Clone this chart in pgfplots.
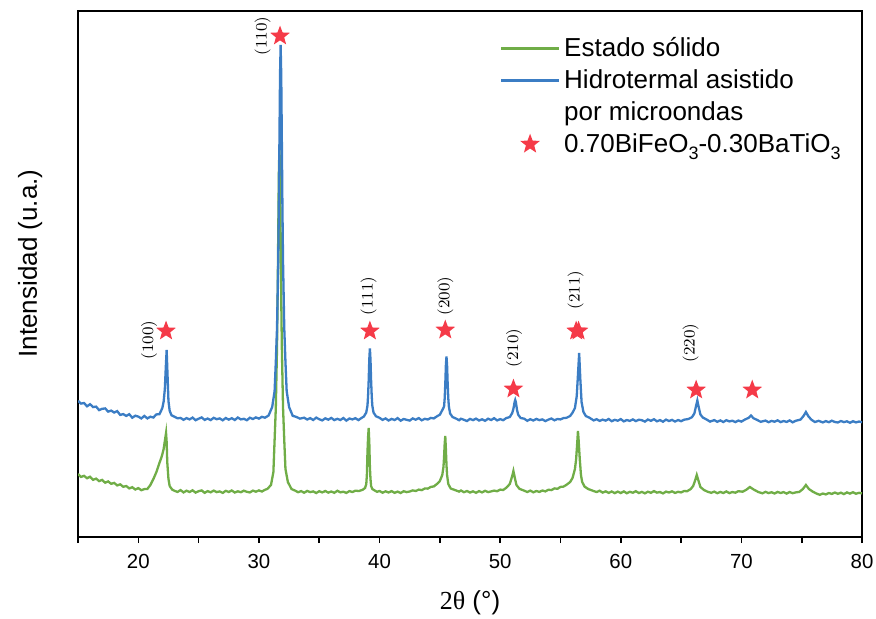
\documentclass[border=0pt]{standalone}
\usepackage{fontspec}
\setsansfont{Liberation Sans}
\newfontfamily\serifL{Liberation Serif}
\usepackage{pgfplots}
\pgfplotsset{compat=1.18}
\definecolor{gr}{RGB}{112,173,71}
\definecolor{bl}{RGB}{59,125,196}
\definecolor{sr}{RGB}{245,58,72}
\pgfplotsset{
  linelegend/.style={legend image code/.code={\draw[##1] (0pt,0pt) -- (29pt,0pt);}},
  starlegend/.style={legend image code/.code={\draw[##1] plot coordinates {(14.5pt,0pt)};}},
}
\newcommand{\sub}[1]{\raisebox{-0.55ex}{\fontsize{9}{9}\selectfont #1}}
\pgfdeclareplotmark{fstar}{%
 \pgfpathmoveto{\pgfpointpolar{90}{\pgfplotmarksize}}%
 \pgfpathlineto{\pgfpointpolar{126}{0.42*\pgfplotmarksize}}%
 \pgfpathlineto{\pgfpointpolar{162}{\pgfplotmarksize}}%
 \pgfpathlineto{\pgfpointpolar{198}{0.42*\pgfplotmarksize}}%
 \pgfpathlineto{\pgfpointpolar{234}{\pgfplotmarksize}}%
 \pgfpathlineto{\pgfpointpolar{270}{0.42*\pgfplotmarksize}}%
 \pgfpathlineto{\pgfpointpolar{306}{\pgfplotmarksize}}%
 \pgfpathlineto{\pgfpointpolar{342}{0.42*\pgfplotmarksize}}%
 \pgfpathlineto{\pgfpointpolar{18}{\pgfplotmarksize}}%
 \pgfpathlineto{\pgfpointpolar{54}{0.42*\pgfplotmarksize}}%
 \pgfpathclose
 \pgfusepathqfill}
\begin{document}
\begin{tikzpicture}
\begin{axis}[
 scale only axis, width=392pt, height=263pt,
 xmin=15, xmax=80, ymin=0, ymax=526,
 axis line style={line width=0.9pt},
 xtick={20,30,...,80}, minor xtick={15,25,...,75},
 xtick pos=bottom, tick align=outside,
 major tick length=3pt, minor tick length=3pt,
 every tick/.style={line width=0.8pt, black},
 ytick=\empty,
 /pgf/number format/assume math mode=true,
 xticklabel style={font=\sffamily\fontsize{10.2}{12}\selectfont, yshift=-2pt},
 xlabel={{\serifL 2θ} (°)},
 xlabel style={font=\sffamily\fontsize{13}{15}\selectfont, at={(axis description cs:0.5,-0.125)}, anchor=center},
 ylabel={Intensidad (u.a.)},
 ylabel style={font=\sffamily\fontsize{13}{15}\selectfont, at={(axis description cs:-0.061,0.52)}, anchor=center},
 legend cell align=left,
 legend style={at={(axis description cs:0.53,0.962)}, anchor=north west, draw=none, fill=none,
   font=\sffamily\fontsize{13}{14}\selectfont, row sep=3pt, nodes={inner ysep=1pt}},
]
\addplot[gr, line width=1.15pt, linelegend] table {
x y
15.00 63.0
15.25 60.1
15.50 61.2
15.75 58.8
16.00 60.3
16.25 57.2
16.50 58.4
16.75 55.9
17.00 57.1
17.25 54.3
17.50 55.6
17.75 53.2
18.00 54.1
18.25 51.6
18.50 52.7
18.75 50.2
19.00 51.0
19.25 48.6
19.50 49.8
19.75 47.5
20.00 48.9
20.25 46.8
20.50 47.9
20.75 48.0
21.00 52
21.25 58
21.50 65
21.75 74
21.90 79
22.00 83
22.10 88
22.20 96
22.30 104
22.35 95
22.40 75
22.50 58
22.60 51
22.80 47.5
23.00 46.2
23.25 45.1
23.50 46.9
23.75 44.6
24.00 46.3
24.25 45.0
24.50 46.7
24.75 44.4
25.00 45.8
25.25 46.6
25.50 44.2
25.75 45.9
26.00 44.7
26.25 46.4
26.50 44.9
26.75 45.6
27.00 44.1
27.25 46.2
27.50 45.0
27.75 46.5
28.00 44.5
28.25 45.7
28.50 44.8
28.75 46.3
29.00 45.2
29.25 44.6
29.50 46.4
29.75 45.3
30.00 46.6
30.25 45.5
30.50 47.2
30.70 48.1
31.00 52
31.20 65
31.30 97
31.40 129
31.50 190
31.55 239
31.60 301
31.65 362
31.70 390
31.75 362
31.80 301
31.85 239
31.90 190
32.00 129
32.10 97
32.20 68
32.40 55
32.70 48
33.00 46.4
33.25 44.8
33.50 45.9
33.75 44.3
34.00 46.1
34.25 44.9
34.50 45.6
34.75 44.0
35.00 45.8
35.25 44.6
35.50 46.0
35.75 44.4
36.00 45.5
36.25 44.2
36.50 46.2
36.75 44.7
37.00 45.3
37.25 44.1
37.50 45.9
37.75 45.0
38.00 46.3
38.30 46.0
38.60 47.2
38.80 49
38.90 53
38.95 62
39.00 85
39.05 100
39.10 109
39.15 95
39.20 70
39.25 58
39.30 51
39.40 48
39.60 46.5
39.80 45.2
40.00 46.0
40.25 44.3
40.50 45.7
40.75 44.5
41.00 45.9
41.25 44.2
41.50 45.4
41.75 44.0
42.00 45.8
42.25 44.9
42.50 45.5
42.75 46.6
43.00 46.0
43.25 47.4
43.50 46.9
43.75 48.5
44.00 48.4
44.25 50.1
44.50 50.6
44.80 53.4
45.00 56
45.20 62
45.30 70
45.35 80
45.40 93
45.45 101
45.50 88
45.55 72
45.60 62
45.70 53
45.90 48.5
46.20 47.2
46.60 45.4
46.75 46.5
47.00 44.8
47.25 46.0
47.50 44.5
47.75 45.7
48.00 44.2
48.25 45.9
48.50 44.6
48.75 46.2
49.00 44.9
49.25 45.6
49.50 46.4
49.75 45.8
50.00 47.4
50.25 47.0
50.50 49.2
50.80 53
51.00 61
51.10 66
51.20 60
51.35 52
51.60 48.2
52.00 46.3
52.25 45.0
52.50 46.4
52.75 44.7
53.00 46.0
53.25 45.1
53.50 46.5
53.75 45.6
54.00 47.3
54.25 46.9
54.50 48.6
54.75 48.2
55.00 50.1
55.25 50.4
55.50 52.2
55.80 55
56.00 59
56.20 68
56.30 78
56.40 96
56.45 106
56.50 98
56.60 78
56.70 62
56.80 55
57.00 50.4
57.30 48.0
57.70 46.2
58.00 45.0
58.25 46.3
58.50 44.4
58.75 45.7
59.00 44.1
59.25 45.5
59.50 43.9
59.75 45.4
60.00 44.0
60.25 45.6
60.50 43.8
60.75 45.2
61.00 44.3
61.25 45.8
61.50 44.0
61.75 45.1
62.00 43.7
62.25 45.3
62.50 44.2
62.75 45.9
63.00 44.4
63.25 45.0
63.50 43.6
63.75 45.4
64.00 44.5
64.25 45.7
64.50 44.1
64.75 45.2
65.00 44.6
65.25 46.0
65.50 45.8
65.80 48
66.00 51
66.15 56
66.30 62
66.45 56
66.60 50
66.90 47
67.20 45.3
67.50 44.2
67.75 45.4
68.00 43.8
68.25 45.1
68.50 44.0
68.75 45.6
69.00 43.9
69.25 45.0
69.50 44.3
69.75 45.8
70.10 45.3
70.40 47.2
70.70 50
71.00 47.6
71.40 45.0
71.75 43.7
72.00 45.2
72.25 43.9
72.50 44.8
72.75 43.5
73.00 45.1
73.25 44.0
73.50 44.9
73.75 43.4
74.00 45.0
74.25 43.8
74.50 44.6
74.80 45.1
75.10 48
75.35 52
75.60 48
75.90 45.5
76.20 43.6
76.50 42.2
76.75 43.5
77.00 42.6
77.25 44.0
77.50 43.1
77.75 44.5
78.00 43.2
78.25 44.3
78.50 42.9
78.75 44.6
79.00 43.4
79.25 44.8
79.50 43.3
79.75 44.2
80.00 43.6
};
\addlegendentry{Estado sólido}
\addplot[bl, line width=1.15pt, linelegend] table {
x y
15.00 136.2
15.25 133.4
15.50 134.0
15.75 130.7
16.00 132.8
16.25 129.9
16.50 130.4
16.75 126.9
17.00 128.2
17.25 128.6
17.50 125.4
17.75 126.4
18.00 124.5
18.25 125.9
18.50 122.1
18.75 122.9
19.00 121.1
19.25 122.8
19.50 119.3
19.75 121.3
20.00 120.4
20.25 118.6
20.50 121.1
20.75 118.6
21.00 120.3
21.25 119.5
21.50 122.6
21.75 122.8
21.90 126.5
22.00 129.3
22.10 135.4
22.20 148.0
22.28 170
22.35 187
22.42 163
22.50 136
22.60 126.2
22.75 121.8
23.00 120.3
23.25 118.7
23.50 119.1
23.75 117.2
24.00 118.9
24.25 117.6
24.50 119.4
24.75 116.8
25.00 118.3
25.25 119.6
25.50 117.1
25.75 118.5
26.00 116.9
26.25 119.2
26.50 117.8
26.75 118.6
27.00 116.7
27.25 119.0
27.50 117.4
27.75 118.8
28.00 117.0
28.25 119.5
28.50 117.6
28.75 118.2
29.00 116.8
29.25 119.3
29.50 118.0
29.75 119.6
30.00 118.4
30.25 120.2
30.50 119.3
30.80 121.5
31.10 130
31.30 146
31.40 175
31.50 209
31.60 275
31.65 328
31.70 396
31.75 462
31.80 492
31.85 462
31.90 396
31.95 328
32.00 275
32.10 209
32.20 175
32.30 146
32.50 130
32.80 121.2
33.10 120.1
33.40 118.4
33.75 119.3
34.00 117.5
34.25 118.9
34.50 117.0
34.75 119.4
35.00 117.8
35.25 116.6
35.50 118.7
35.75 117.3
36.00 119.1
36.25 116.9
36.50 118.2
36.75 117.0
37.00 119.0
37.25 116.4
37.50 118.5
37.75 117.6
38.00 118.8
38.25 116.9
38.50 119.0
38.70 120.5
38.90 124.5
39.00 131.5
39.05 141.5
39.10 156.5
39.15 177.5
39.20 188.5
39.25 177.5
39.30 156.5
39.35 141.5
39.40 131.5
39.50 124.5
39.70 120.8
40.00 119.2
40.25 117.1
40.50 118.6
40.75 116.5
41.00 118.1
41.25 117.0
41.50 118.9
41.75 116.3
42.00 118.0
42.25 117.2
42.50 116.4
42.75 118.6
43.00 117.3
43.25 118.9
43.50 116.7
43.75 118.2
44.00 117.5
44.25 119.1
44.50 118.6
44.80 121.0
45.00 122.3
45.20 126.8
45.35 130.5
45.40 138.5
45.45 152.5
45.50 171.5
45.55 180.5
45.60 171.5
45.65 152.5
45.70 138.5
45.75 130.5
45.85 123.5
46.05 120.0
46.35 118.4
46.60 116.8
46.75 118.3
47.00 117.2
47.25 116.0
47.50 118.1
47.75 116.9
48.00 118.4
48.25 116.5
48.50 117.7
48.75 116.2
49.00 118.3
49.25 117.0
49.50 118.8
49.75 116.6
50.00 117.9
50.25 116.8
50.50 118.9
50.80 120.0
51.00 124.0
51.10 128.2
51.20 135.0
51.25 137.0
51.30 135.0
51.40 127.0
51.50 122.2
51.70 119.0
52.00 118.3
52.25 116.2
52.50 117.8
52.75 116.5
53.00 118.1
53.25 116.9
53.50 117.6
53.75 115.9
54.00 117.4
54.25 118.5
54.50 116.7
54.75 118.0
55.00 117.6
55.25 118.9
55.50 119.2
55.80 121.0
56.00 124.3
56.20 129.0
56.35 141.0
56.45 162.0
56.55 184.0
56.65 157.0
56.75 135.0
56.90 125.2
57.10 121.0
57.40 119.3
57.75 116.6
58.00 117.8
58.25 116.1
58.50 117.4
58.75 116.4
59.00 118.0
59.25 115.8
59.50 117.2
59.75 116.3
60.00 117.9
60.25 115.6
60.50 117.0
60.75 116.1
61.00 117.6
61.25 115.9
61.50 117.3
61.75 116.8
62.00 115.4
62.25 117.5
62.50 116.2
62.75 117.8
63.00 115.7
63.25 116.9
63.50 115.3
63.75 117.4
64.00 116.0
64.25 117.1
64.50 115.5
64.75 117.0
65.00 115.8
65.25 117.3
65.60 118.0
65.90 119.8
66.10 123.5
66.25 131.5
66.35 136.5
66.45 130.5
66.60 122.6
66.80 119.5
67.10 117.6
67.40 115.4
67.75 116.9
68.00 115.2
68.25 116.6
68.50 115.0
68.75 116.8
69.00 115.6
69.25 116.3
69.50 114.9
69.75 116.5
70.00 115.4
70.30 117.5
70.60 119.2
70.80 121.5
71.00 118.8
71.30 117.1
71.60 115.2
72.00 116.4
72.25 114.8
72.50 116.1
72.75 115.3
73.00 116.7
73.25 114.9
73.50 116.0
73.75 115.1
74.00 116.6
74.25 114.7
74.50 116.2
74.90 117.4
75.15 121.0
75.35 125.0
75.55 120.8
75.80 117.3
76.10 115.0
76.40 116.2
76.75 114.6
77.00 115.9
77.25 114.8
77.50 116.3
77.75 115.0
78.00 114.5
78.25 116.0
78.50 114.9
78.75 115.7
79.00 114.2
79.25 115.8
79.50 114.6
79.75 115.5
80.00 114.8
};
\addlegendentry{Hidrotermal asistido}
\addlegendimage{empty legend}
\addlegendentry{por microondas}
\addplot[only marks, mark=fstar, mark size=5.2pt, color=sr, starlegend] table {
x y
22.3 206
31.75 501
39.2 206
45.45 207
51.1 148
56.3 206
56.5 206
66.25 147
70.9 147
};
\addlegendentry{0.70BiFeO\sub{3}-0.30BaTiO\sub{3}}
\node[rotate=90, font=\fontsize{8}{9}\selectfont] at (axis cs:20.9,197) {(100)};
\node[rotate=90, font=\fontsize{8}{9}\selectfont] at (axis cs:30.3,501) {(110)};
\node[rotate=90, font=\fontsize{8}{9}\selectfont] at (axis cs:39.1,241) {(111)};
\node[rotate=90, font=\fontsize{8}{9}\selectfont] at (axis cs:45.45,241) {(200)};
\node[rotate=90, font=\fontsize{8}{9}\selectfont] at (axis cs:51.15,189) {(210)};
\node[rotate=90, font=\fontsize{8}{9}\selectfont] at (axis cs:56.25,247) {(211)};
\node[rotate=90, font=\fontsize{8}{9}\selectfont] at (axis cs:65.8,194) {(220)};
\end{axis}
\pgfresetboundingbox
\path ([xshift=-39pt,yshift=-40.5pt]current axis.south west) rectangle ([xshift=7pt,yshift=5.5pt]current axis.north east);
\end{tikzpicture}
\end{document}
